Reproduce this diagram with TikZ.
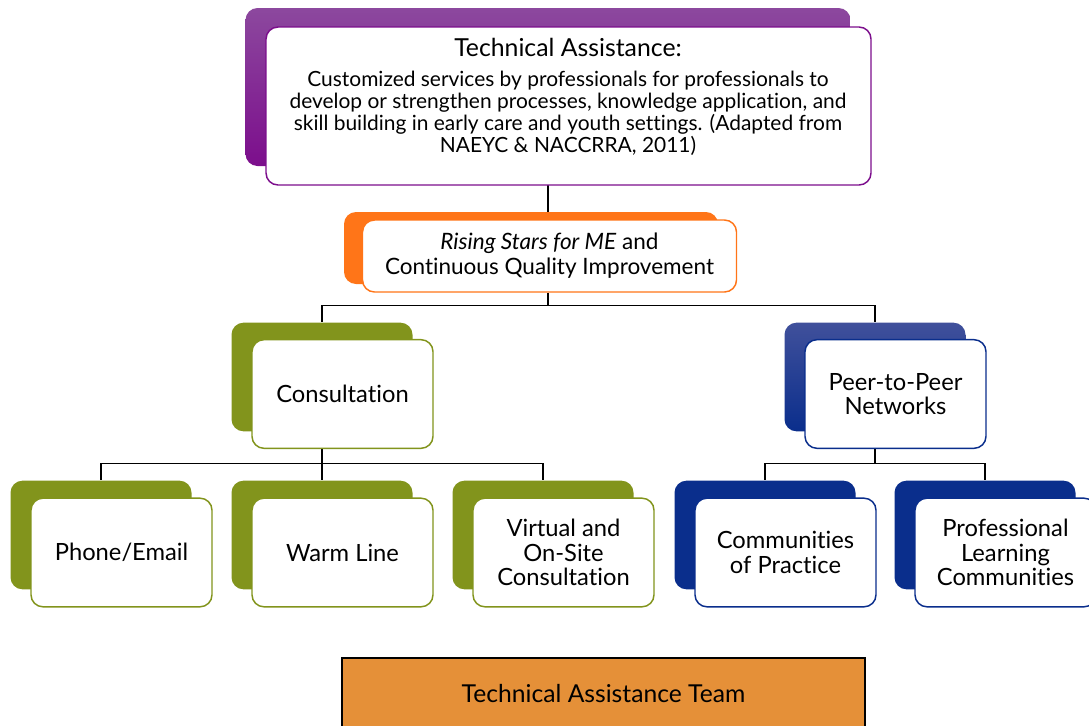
\documentclass[tikz,border=0pt]{standalone}
\usepackage{fontspec}
\setmainfont{Lato}[Ligatures={NoCommon}]
\usetikzlibrary{positioning,backgrounds}
\definecolor{tapurple}{RGB}{124,14,140}
\definecolor{tapurplelight}{RGB}{140,72,158}
\definecolor{taorange}{RGB}{255,117,24}
\definecolor{taolive}{RGB}{130,148,28}
\definecolor{tablue}{RGB}{10,46,140}
\definecolor{tabluelight}{RGB}{64,80,155}
\definecolor{tateam}{RGB}{229,144,56}
\tikzstyle{card}=[draw, fill=white, rounded corners=9pt, line width=1.1pt, align=center, inner sep=0pt, font=\fontsize{17.8}{18.5}\selectfont]
\tikzstyle{cardback}=[rounded corners=9pt, inner sep=0pt]
\tikzstyle{small}=[minimum width=135.75pt, minimum height=81.5pt]
\tikzstyle{link}=[black, line width=1.1pt]

\begin{document}
\begin{tikzpicture}[x=0.75pt, y=-0.75pt]
\useasboundingbox (0,0) rectangle (1089,725);
% Technical assistance
    \node[cardback, minimum width=453.75pt, minimum height=118.5pt, top color=tapurplelight, bottom color=tapurple] (topb) at (548,87) {};
    \node[card, draw=tapurple, minimum width=453.75pt, minimum height=118.5pt] (topf) at (568.5,106) {};
    \node[align=center, font=\fontsize{15.7}{16.5}\selectfont] (toptext) at (568,96.5) {{\fontsize{18.6}{18}\selectfont Technical Assistance:}\\[6pt]
        Customized services by professionals for professionals to\\
        develop or strengthen processes, knowledge application, and\\
        skill building in early care and youth settings. (Adapted from\\
        NAEYC \& NACCRRA, 2011)};
% Rising Stars
    \node[cardback, fill=taorange, minimum width=280.5pt, minimum height=54pt] (orgb) at (531,248) {};
    \node[card, draw=taorange, minimum width=280.5pt, minimum height=54pt, font=\fontsize{16.9}{18.8}\selectfont] (orgf) at (549.5,256) {\textit{Rising Stars for ME} and\\Continuous Quality Improvement};
% Second row
    \node[cardback, small, fill=taolive] (consb) at (322,377) {};
    \node[card, small, draw=taolive] (consf) at (342.5,394) {Consultation};
    \node[cardback, small, top color=tabluelight, bottom color=tablue] (peerb) at (875,377) {};
    \node[card, small, draw=tablue] (peerf) at (895.5,394) {Peer-to-Peer\\Networks};
% Third row
    \node[cardback, small, fill=taolive] (phoneb) at (101,535) {};
    \node[card, small, draw=taolive] (phonef) at (121.5,552.5) {Phone/Email};
    \node[cardback, small, fill=taolive] (warmb) at (322,535) {};
    \node[card, small, draw=taolive] (warmf) at (342.5,552.5) {Warm Line};
    \node[cardback, small, fill=taolive] (virtb) at (543,535) {};
    \node[card, small, draw=taolive] (virtf) at (563.5,552.5) {Virtual and\\On-Site\\Consultation};
    \node[cardback, small, fill=tablue] (copb) at (765,535) {};
    \node[card, small, draw=tablue] (copf) at (785.5,552.5) {Communities\\of Practice};
    \node[cardback, small, fill=tablue] (plcb) at (985,535) {};
    \node[card, small, draw=tablue] (plcf) at (1005.5,552.5) {Professional\\Learning\\Communities};
% Team
    \node[draw, fill=tateam, line width=1.1pt, minimum width=392.25pt, minimum height=53.25pt, font=\fontsize{18.5}{18.5}\selectfont] (team) at (603.5,693.5) {Technical Assistance Team};
% Links
\begin{scope}[on background layer]
    \draw[link] (topb.south) -- (topb.south |- orgb.north);
    \draw[link] (topb.south |- orgf.south) -- ++(0,13) -| (consb.north);
    \draw[link] (topb.south |- orgf.south) -- ++(0,13) -| (peerb.north);
    \draw[link] (consb.south) -- ++(0,32) -| (phoneb.north);
    \draw[link] (consb.south) -- (warmb.north);
    \draw[link] (consb.south) -- ++(0,32) -| (virtb.north);
    \draw[link] (peerb.south) -- ++(0,32) -| (copb.north);
    \draw[link] (peerb.south) -- ++(0,32) -| (plcb.north);
\end{scope}
\end{tikzpicture}
\end{document}
